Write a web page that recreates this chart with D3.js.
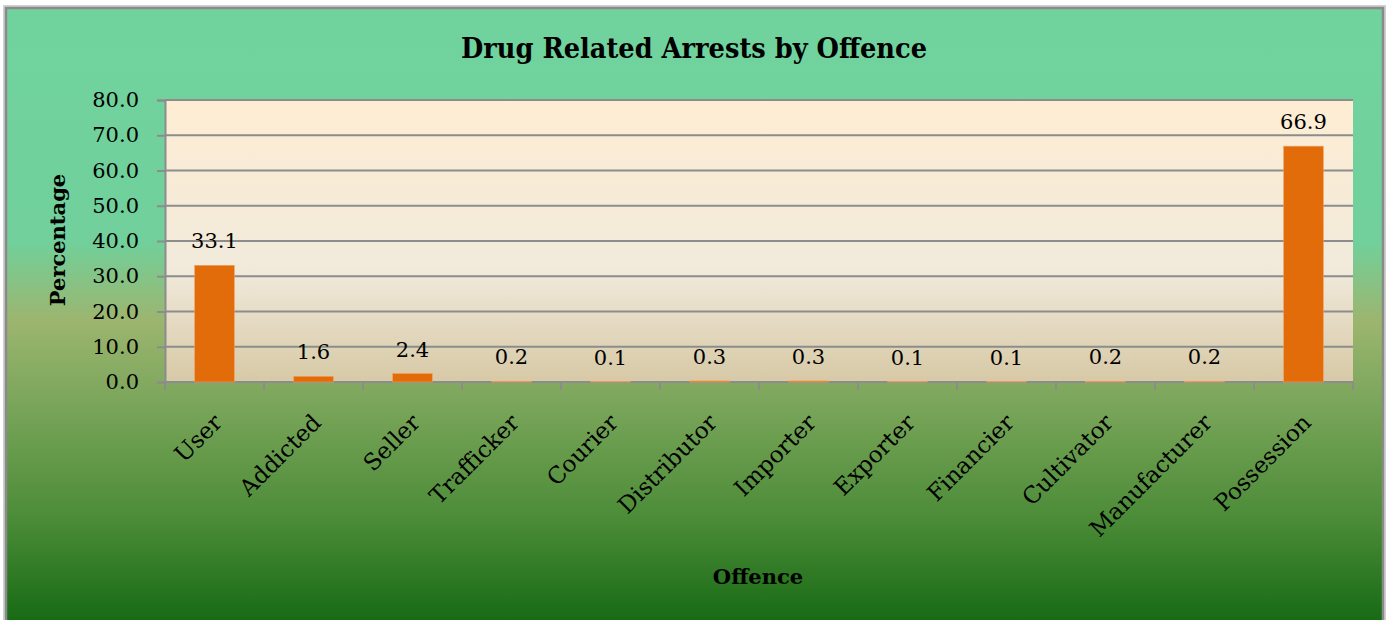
<!DOCTYPE html>
<html>
<head>
<meta charset="utf-8">
<script src="https://cdn.jsdelivr.net/npm/d3@7"></script>
<style>
  html, body { margin: 0; padding: 0; background: #fff; }
  svg { display: block; }
  text { font-family: "DejaVu Serif", serif; fill: #000; }
</style>
</head>
<body>
<svg id="chart" width="1388" height="620"></svg>
<script>
// Share of drug related arrests per offence type (%)
const categories = ["User", "Addicted", "Seller", "Trafficker", "Courier", "Distributor",
                    "Importer", "Exporter", "Financier", "Cultivator", "Manufacturer", "Possession"];
const percentages = [33.1, 1.6, 2.4, 0.2, 0.1, 0.3, 0.3, 0.1, 0.1, 0.2, 0.2, 66.9];
const yTicks = [0, 10, 20, 30, 40, 50, 60, 70, 80];

const titleText = "Drug Related Arrests by Offence";
const xTitle = "Offence";
const yTitle = "Percentage";

const svg = d3.select("#chart");
const plot = { left: 165, right: 1353, top: 100, bottom: 382 };

const defs = svg.append("defs");

// Chart-area fill: mint top fading through olive to deep green
const outerGrad = defs.append("linearGradient")
  .attr("id", "outerFill").attr("x1", 0).attr("y1", 0).attr("x2", 0).attr("y2", 1);
[[0, "#70d39e"], [0.38, "#71d09b"], [0.51, "#9cb56f"], [0.64, "#7ba65b"],
 [0.83, "#4c8c38"], [1, "#176a14"]].forEach(([o, c]) =>
  outerGrad.append("stop").attr("offset", o).attr("stop-color", c));

// Plot-area fill: pale cream to sand
const plotGrad = defs.append("linearGradient")
  .attr("id", "plotFill").attr("x1", 0).attr("y1", 0).attr("x2", 0).attr("y2", 1);
[[0, "#feedd3"], [0.6, "#f1eadb"], [1, "#d7c9a6"]].forEach(([o, c]) =>
  plotGrad.append("stop").attr("offset", o).attr("stop-color", c));

// Outer frame
svg.append("rect").attr("x", 4).attr("y", 6).attr("width", 1381).attr("height", 616)
  .attr("fill", "none").attr("stroke", "#d0d0d0").attr("stroke-width", 2);
svg.append("rect").attr("x", 6).attr("y", 8).attr("width", 1377).attr("height", 614)
  .attr("fill", "url(#outerFill)").attr("stroke", "#8a8a8a").attr("stroke-width", 2.5);

// Plot background
svg.append("rect")
  .attr("x", plot.left).attr("y", plot.top)
  .attr("width", plot.right - plot.left).attr("height", plot.bottom - plot.top)
  .attr("fill", "url(#plotFill)");

const x = d3.scaleBand().domain(categories).range([plot.left, plot.right]).paddingInner(0.6).paddingOuter(0.3);
const xBand = d3.scaleBand().domain(categories).range([plot.left, plot.right]);
const y = d3.scaleLinear().domain([0, 80]).range([plot.bottom, plot.top]);

// Horizontal gridlines
svg.append("g").selectAll("line").data(yTicks).join("line")
  .attr("x1", plot.left).attr("x2", plot.right)
  .attr("y1", d => y(d)).attr("y2", d => y(d))
  .attr("stroke", "#8c8c8c").attr("stroke-width", 2);

// Y axis
const yAxis = svg.append("g").attr("transform", `translate(${plot.left},0)`)
  .call(d3.axisLeft(y).tickValues(yTicks).tickFormat(d3.format(".1f")).tickSize(8).tickPadding(18));
yAxis.select(".domain").attr("stroke", "#8c8c8c").attr("stroke-width", 2);
yAxis.selectAll(".tick line").attr("stroke", "#8c8c8c").attr("stroke-width", 2);
yAxis.selectAll(".tick text").attr("font-family", "DejaVu Serif").attr("font-size", 21).attr("fill", "#000");

// X axis with category boundary ticks
const xAxisG = svg.append("g");
xAxisG.append("line").attr("x1", plot.left).attr("x2", plot.right)
  .attr("y1", plot.bottom).attr("y2", plot.bottom)
  .attr("stroke", "#8c8c8c").attr("stroke-width", 2);
const bounds = categories.map(c => xBand(c)).concat([plot.right]);
xAxisG.selectAll("line.tk").data(bounds).join("line").attr("class", "tk")
  .attr("x1", d => d).attr("x2", d => d)
  .attr("y1", plot.bottom).attr("y2", plot.bottom + 8)
  .attr("stroke", "#8c8c8c").attr("stroke-width", 2);

// Bars
svg.append("g").selectAll("rect").data(percentages).join("rect")
  .attr("x", (d, i) => x(categories[i]))
  .attr("y", d => y(d))
  .attr("width", x.bandwidth())
  .attr("height", d => y(0) - y(d))
  .attr("fill", "#e36c0a")
  .attr("stroke", "#f0a060").attr("stroke-width", 0.6);

// Value labels
svg.append("g").selectAll("text").data(percentages).join("text")
  .attr("x", (d, i) => xBand(categories[i]) + xBand.bandwidth() / 2)
  .attr("y", d => y(d) - 17)
  .attr("text-anchor", "middle")
  .attr("font-size", 21)
  .text(d => d3.format(".1f")(d));

// Rotated category labels
svg.append("g").selectAll("text").data(categories).join("text")
  .attr("transform", d => `translate(${xBand(d) + xBand.bandwidth() / 2 + 9},${plot.bottom + 42}) rotate(-45)`)
  .attr("text-anchor", "end")
  .attr("font-size", 23)
  .text(d => d);

// Title
svg.append("text")
  .attr("x", 694).attr("y", 58)
  .attr("text-anchor", "middle")
  .attr("font-size", 27).attr("font-weight", "bold")
  .attr("textLength", 466).attr("lengthAdjust", "spacingAndGlyphs")
  .text(titleText);

// Axis titles
svg.append("text")
  .attr("x", 758).attr("y", 584)
  .attr("text-anchor", "middle")
  .attr("font-size", 21).attr("font-weight", "bold")
  .text(xTitle);

svg.append("text")
  .attr("transform", "translate(65,240) rotate(-90)")
  .attr("text-anchor", "middle")
  .attr("font-size", 21).attr("font-weight", "bold")
  .text(yTitle);
</script>
</body>
</html>
